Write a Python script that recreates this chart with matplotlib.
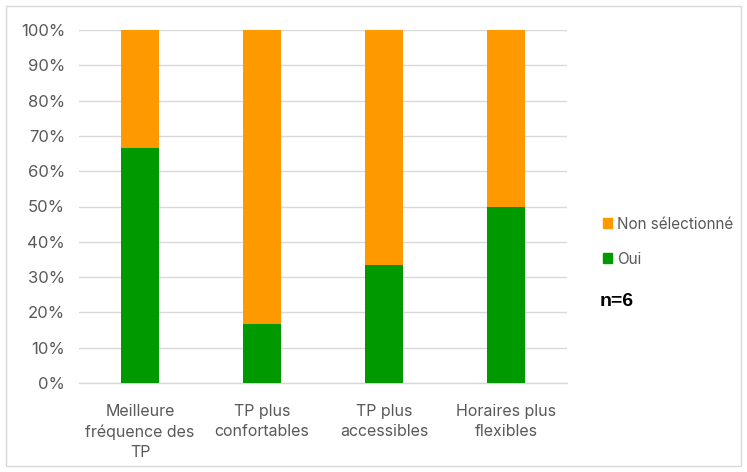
import matplotlib.pyplot as plt
from matplotlib.patches import Rectangle, Patch
from matplotlib.ticker import PercentFormatter

categories = ["Meilleure\nfréquence des\nTP", "TP plus\nconfortables",
              "TP plus\naccessibles", "Horaires plus\nflexibles"]
oui = [4 / 6, 1 / 6, 2 / 6, 3 / 6]
non_selectionne = [2 / 6, 5 / 6, 4 / 6, 3 / 6]

green = "#009900"
orange = "#FF9900"
grey = "#595959"

plt.rcParams["font.family"] = ["Inter", "DejaVu Sans"]

fig = plt.figure(figsize=(7.47, 4.72), dpi=100)
ax = fig.add_axes([0.1058, 0.1886, 0.6533, 0.7478])

x = range(len(categories))
ax.bar(x, oui, width=0.31, color=green, label="Oui", zorder=3)
ax.bar(x, non_selectionne, width=0.31, bottom=oui, color=orange,
       label="Non sélectionné", zorder=3)

ax.set_xlim(-0.5, len(categories) - 0.5)
ax.set_ylim(0, 1)
ax.set_yticks([i / 10 for i in range(11)])
ax.yaxis.set_major_formatter(PercentFormatter(1.0, decimals=0))
ax.set_xticks(list(x))
ax.set_xticklabels(categories, linespacing=1.45)
ax.grid(axis="y", color="#d9d9d9", linewidth=1, zorder=0)
for side in ["top", "right", "left"]:
    ax.spines[side].set_visible(False)
ax.spines["bottom"].set_color("#d9d9d9")
ax.spines["bottom"].set_linewidth(1)
ax.tick_params(axis="both", length=0, colors=grey, labelsize=11.5)
ax.tick_params(axis="y", labelsize=12, pad=10)
ax.tick_params(axis="x", pad=15)

handles = [Patch(color=orange, label="Non sélectionné"),
           Patch(color=green, label="Oui")]
leg = fig.legend(handles=handles, loc="upper left",
                 bbox_to_anchor=(0.789, 0.57), frameon=False,
                 fontsize=11, handlelength=0.6, handleheight=0.6,
                 handletextpad=0.3, labelspacing=1.3)
for t in leg.get_texts():
    t.set_color(grey)

fig.text(0.803, 0.352, "n=6", fontsize=14, fontweight="bold",
         color="black", family=["Liberation Sans", "DejaVu Sans"])

# light border around the whole chart
fig.patches.append(Rectangle((0.008, 0.012), 0.984, 0.976, transform=fig.transFigure,
                             fill=False, edgecolor="#d9d9d9", linewidth=1))

fig.savefig("out.png", dpi=100)
